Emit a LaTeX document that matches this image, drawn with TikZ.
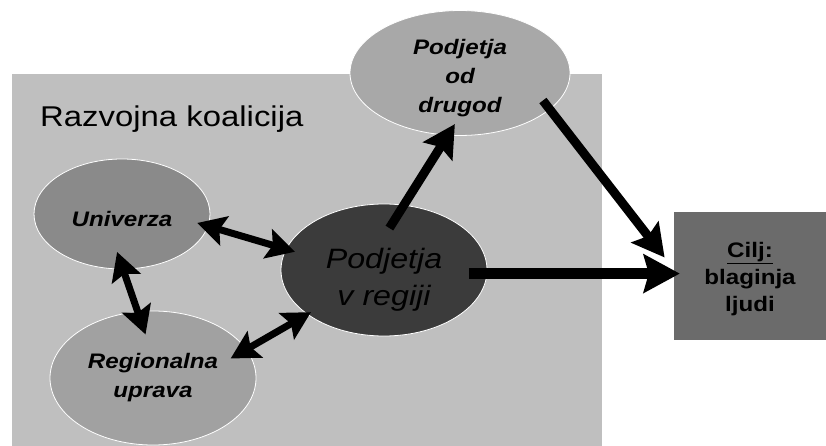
\documentclass[tikz,border=0pt]{standalone}
\usepackage{fontspec}
\setmainfont{Liberation Sans}[FakeStretch=1.15]
\usepackage{tikz}
\usetikzlibrary{shapes.geometric}
\usetikzlibrary{arrows.meta}
\usepackage{xcolor}
\colorlet{koalicija}{black!25}
\colorlet{univerzacol}{black!46}
\colorlet{upravacol}{black!37}
\colorlet{drugodcol}{black!34}
\colorlet{regijacol}{black!77}
\colorlet{ciljcol}{black!58}
\tikzstyle{blob}=[ellipse,draw=white,line width=0.8pt,inner sep=0pt,outer sep=0pt,align=center,font=\fontsize{21}{29}\selectfont\bfseries\itshape]
\tikzstyle{twoway}=[{Stealth[length=28pt,width=30pt,inset=5pt]}-{Stealth[length=28pt,width=30pt,inset=5pt]},line width=7pt]
\tikzstyle{oneway}=[-{Stealth[length=32pt,width=34pt,inset=5pt]},line width=9pt]

\begin{document}
\begin{tikzpicture}[x=1pt,y=-1pt]
  \useasboundingbox (0,0) rectangle (826,446);
  % grey field of the coalition
  \fill[koalicija] (12,74) rectangle (602,446);
  \node[anchor=base west,inner sep=0pt,font=\fontsize{28.6}{34}\selectfont] (naslov) at (40,127) {Razvojna koalicija};
  \node[blob,fill=univerzacol,minimum width=176pt,minimum height=110pt,text height=25pt] (uni) at (122,214) {Univerza};
  \node[blob,fill=upravacol,minimum width=206pt,minimum height=134pt] (reg) at (153,378) {Regionalna\\uprava};
  \node[blob,fill=drugodcol,minimum width=220pt,minimum height=120pt,text height=84pt] (odd) at (460,73) {Podjetja\\od\\drugod};
  \node[blob,fill=regijacol,minimum width=206pt,minimum height=132pt,text height=76pt,font=\fontsize{28}{37}\selectfont\itshape] (pvr) at (384,270) {Podjetja\\v regiji};
  \node[fill=ciljcol,minimum width=152pt,minimum height=128pt,inner sep=0pt,text height=76pt,align=center,font=\fontsize{21}{27}\selectfont\bfseries] (cilj) at (750,276) {\underline{Cilj:}\\blaginja\\ljudi};
  % links inside the coalition
  \draw[twoway,shorten <=-11pt,shorten >=-9pt] (uni.-8) -- (pvr.168);
  \draw[twoway,shorten <=-18pt,shorten >=-24pt] (uni.-89) -- (reg.103);
  \draw[twoway,shorten <=-18pt,shorten >=-4pt] (reg.17) -- (pvr.-150);
  % towards the goal
  \draw[oneway,shorten <=-27pt,shorten >=-13pt] (pvr.73) -- (odd.-101);
  \draw[oneway,shorten <=-11pt,shorten >=15pt] (odd.-22) -- (cilj.175);
  \draw[line width=11pt,-{Stealth[length=36pt,width=38pt,inset=5pt]},shorten <=-18pt,shorten >=-6pt] (pvr.-2) -- (pvr.-2 -| cilj.west);
\end{tikzpicture}
\end{document}
